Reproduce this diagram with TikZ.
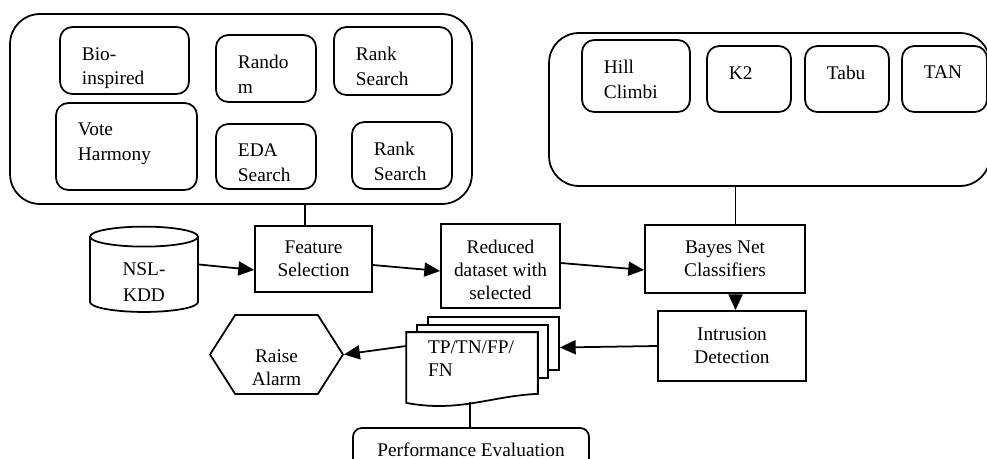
\documentclass[tikz,border=0pt]{standalone}
\usepackage{fontspec}
\setmainfont{Liberation Serif}
\usetikzlibrary{arrows.meta,calc,positioning,shapes.geometric,shapes.symbols}
\tikzset{
  basenode/.style = {align=center, inner sep=2pt, draw, line width=1pt, fill=white,
  text centered, font=\fontsize{11}{13}\selectfont},
  algo_n/.style = {draw, line width=1pt, fill=white, rounded corners=7pt},
  algo_t/.style = {anchor=north west, xshift=12.5pt, yshift=-11.5pt, inner sep=0pt,
  align=left, font=\fontsize{11}{14}\selectfont},
  proc_n/.style = {basenode, rectangle},
  group_n/.style = {draw, line width=1pt, rounded corners=17pt}
}

\begin{document}
\begin{tikzpicture}[x=0.02cm, y=-0.02cm, line width=1pt,
        >={Triangle[length=9pt,width=8pt]},
        store/.style={basenode, cylinder, shape border rotate=90, aspect=0.4},
        alarm/.style={basenode, signal, signal to=west and east, signal pointer angle=115},
        sheet/.style={proc_n, minimum width=2.62cm, minimum height=1.06cm}]
        \useasboundingbox (0,0) rectangle (987,459);
        \clip (0,0) rectangle (987,459);

        % feature selection methods
        \node [group_n, minimum width=9.24cm, minimum height=3.8cm] (searchgrp) at (241,109) {};
        \node [algo_n, minimum width=2.58cm, minimum height=1.34cm, label={[algo_t]north west:Bio-\\inspired}] (bio) at (124.5,60.5) {};
        \node [algo_n, minimum width=2cm, minimum height=1.34cm, label={[algo_t]north west:Rando\\m}] (rand) at (266,68.5) {};
        \node [algo_n, minimum width=2.36cm, minimum height=1.36cm, label={[algo_t]north west:Rank\\Search}] (rank1) at (393,61) {};
        \node [algo_n, minimum width=2.82cm, minimum height=1.74cm, label={[algo_t]north west:Vote\\Harmony}] (vote) at (126.5,146.5) {};
        \node [algo_n, minimum width=2cm, minimum height=1.3cm, label={[algo_t]north west:EDA\\Search}] (eda) at (266,156.5) {};
        \node [algo_n, minimum width=2cm, minimum height=1.34cm, label={[algo_t]north west:Rank\\Search}] (rank2) at (402,155.5) {};

        % bayes net search algorithms
        \node [group_n, minimum width=8.82cm, minimum height=3.06cm] (bngrp) at (769.5,109.5) {};
        \node [algo_n, minimum width=2.16cm, minimum height=1.44cm, label={[algo_t]north west:Hill\\Climbi}] (hill) at (636,76) {};
        \node [algo_n, minimum width=1.68cm, minimum height=1.32cm, label={[algo_t]north west:K2}] (ktwo) at (749,79) {};
        \node [algo_n, minimum width=1.68cm, minimum height=1.32cm, label={[algo_t]north west:Tabu}] (tabu) at (847,79) {};
        \node [algo_n, minimum width=1.7cm, minimum height=1.32cm, label={[algo_t]north west:TAN}] (tan) at (944.5,79) {};

        % main flow
        \node [store, minimum width=2.16cm, minimum height=1.66cm, text height=29pt,
            font=\fontsize{11}{15}\selectfont] (nsl) at (144,276.5) {NSL-\\KDD};
        \node [proc_n, minimum width=2.34cm, minimum height=1.32cm] (featsel) at (313.5,259) {Feature\\Selection};
        \node [proc_n, minimum width=2.38cm, minimum height=1.68cm, text height=38pt] (reduced) at (500.5,266) {Reduced\\dataset with\\selected};
        \node [proc_n, minimum width=3.2cm, minimum height=1.36cm] (bayes) at (725,259) {Bayes Net\\Classifiers};
        \node [proc_n, minimum width=2.96cm, minimum height=1.4cm] (intr) at (732,346) {Intrusion\\Detection};

        % result sheets
        \node [sheet] (sheet3) at (493.5,343.5) {};
        \node [sheet] (sheet2) at (482.5,351.5) {};
        \node [draw=none, minimum width=2.6cm, minimum height=1.2cm, inner sep=0pt] (tpdoc) at (472,363) {};
        \filldraw [fill=white] (tpdoc.north west) -- (tpdoc.north east) -- (tpdoc.south east)
            .. controls +(-47,2) and +(53,10) .. ($(tpdoc.south west)+(0,9)$) -- cycle;
        \node [basenode, draw=none, fill=none, align=left] (tptext) at (471,359) {TP/TN/FP/\\FN};
        \coordinate (docbot) at (470,402);

        \node [alarm, minimum width=2.66cm, minimum height=1.58cm, text height=35pt] (raise) at (276.5,354.5) {Raise\\Alarm};
        \node [proc_n, rounded corners=5pt, minimum width=4.72cm, minimum height=0.88cm] (perf) at (471,450) {Performance Evaluation};

        % connectors
        \draw ([xshift=-5pt]featsel.north) -- ([xshift=-5pt]featsel.north |- searchgrp.south);
        \draw ([xshift=6pt]bayes.north) -- ([xshift=6pt]bayes.north |- bngrp.south);
        \draw [->] ($(nsl.east)+(0,-12)$) -- ($(featsel.west)+(0,11)$);
        \draw [->] ($(featsel.east)+(0,6)$) -- ($(reduced.west)+(0,5)$);
        \draw [->] ($(reduced.east)+(0,-3)$) -- ($(bayes.west)+(0,11)$);
        \draw [->] ([xshift=6pt]bayes.south) -- ([xshift=6pt]bayes.south |- intr.north);
        \draw [->] (intr.west) -- ($(sheet3.east)+(0,4)$);
        \draw [->] ($(tpdoc.west)+(0,-17)$) -- (raise.east);
        \draw (docbot) -- (docbot |- perf.north);
        \end{tikzpicture}
\end{document}
